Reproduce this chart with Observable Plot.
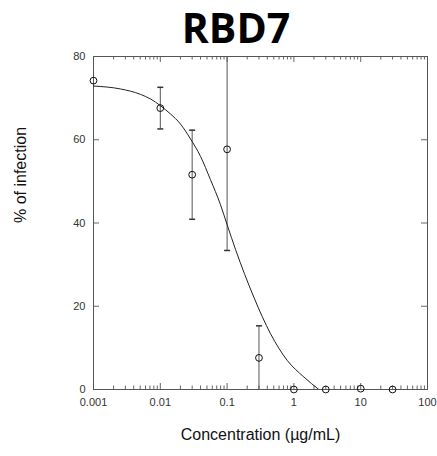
<!DOCTYPE html>
<html><head><meta charset="utf-8">
<script src="https://cdn.jsdelivr.net/npm/d3@7"></script>
<script src="https://cdn.jsdelivr.net/npm/@observablehq/plot@0.6"></script>
<style>body{margin:0;background:#fff}</style>
</head><body><div id="chart"></div>
<script>
const title = "RBD7";
const xLabel = "Concentration (µg/mL)";
const yLabel = "% of infection";
const concentration = [0.001, 0.01, 0.03, 0.1, 0.3, 1, 3, 10, 30];
const infection = [74.2, 67.6, 51.6, 57.7, 7.6, 0, 0, 0.2, 0];
const errorSD = [0, 5, 10.7, 24.3, 7.7, 0, 0, 0, 0];
const fitConcentration = [0.001, 0.00254, 0.00506, 0.00713, 0.01, 0.0142, 0.02, 0.0283, 0.04, 0.0564, 0.0796, 0.1, 0.134, 0.251, 0.447, 0.794, 1.41, 2.36];
const fitInfection = [72.9, 72.2, 70.9, 69.8, 68.2, 66.2, 63.8, 60.2, 56.0, 50.4, 44.4, 39.6, 33.6, 22.2, 13.4, 7.0, 3.0, 0];
const xTicks = [0.001, 0.01, 0.1, 1, 10, 100];
const xTickLabels = ["0.001", "0.01", "0.1", "1", "10", "100"];
const yTicks = [0, 20, 40, 60, 80];

const W = 437, H = 456, mL = 93, mR = 10, mT = 56, mB = 67;
const plotW = W - mL - mR, plotH = H - mT - mB;
const majorLen = 6, minorLen = 3.5;

const xMinor = [];
for (const t of xTicks.slice(0, -1)) for (let k = 2; k <= 9; k++) xMinor.push(t * k);

const rows = concentration.map((c, i) => ({c, y: infection[i], e: errorSD[i]}));
const errRows = rows.filter(d => d.e > 0);
const fit = fitConcentration.map((c, i) => ({c, y: fitInfection[i]}));

const capSymbol = {draw(ctx) { ctx.moveTo(-3, 0); ctx.lineTo(3, 0); }};
const tickColor = "#666";

const chart = Plot.plot({
  width: W, height: H,
  marginLeft: mL, marginRight: mR, marginTop: mT, marginBottom: mB,
  x: {type: "log", domain: [0.001, 100], axis: null},
  y: {domain: [0, 80], axis: null},
  style: {fontFamily: "'Liberation Sans', Arial, sans-serif", fontSize: "11px", color: "#222", background: "#fff"},
  marks: [
    Plot.tickX(xTicks, {x: d => d, insetTop: plotH - majorLen, stroke: tickColor}),
    Plot.tickX(xTicks, {x: d => d, insetBottom: plotH - majorLen, stroke: tickColor}),
    Plot.tickX(xMinor, {x: d => d, insetTop: plotH - minorLen, stroke: tickColor}),
    Plot.tickX(xMinor, {x: d => d, insetBottom: plotH - minorLen, stroke: tickColor}),
    Plot.tickY(yTicks, {y: d => d, insetRight: plotW - majorLen, stroke: tickColor}),
    Plot.tickY(yTicks, {y: d => d, insetLeft: plotW - majorLen, stroke: tickColor}),
    Plot.frame({stroke: "#555"}),
    Plot.text(xTicks, {x: d => d, text: (d, i) => xTickLabels[i], frameAnchor: "bottom", dy: 16, fill: "#333"}),
    Plot.text(yTicks, {y: d => d, text: d => String(d), frameAnchor: "left", dx: -8, textAnchor: "end", fill: "#333"}),
    Plot.text([xLabel], {frameAnchor: "bottom", dy: 50, fontSize: 16, fill: "#111"}),
    Plot.text([yLabel], {frameAnchor: "left", dx: -73, rotate: -90, fontSize: 16, fill: "#111"}),
    Plot.ruleX(errRows, {x: "c", y1: d => d.y - d.e, y2: d => d.y + d.e, stroke: "#555", clip: true}),
    Plot.dot(errRows, {x: "c", y: d => d.y + d.e, symbol: capSymbol, stroke: "#333", fill: "none", clip: true}),
    Plot.dot(errRows, {x: "c", y: d => d.y - d.e, symbol: capSymbol, stroke: "#333", fill: "none", clip: true}),
    Plot.line(fit, {x: "c", y: "y", curve: "monotone-x", stroke: "#222", strokeWidth: 1, clip: true}),
    Plot.dot(rows, {x: "c", y: "y", r: 3.4, stroke: "#111", fill: "none", strokeWidth: 1})
  ]
});

d3.select(chart).append("text")
  .attr("x", 236).attr("y", 43)
  .attr("text-anchor", "middle")
  .style("font-family", "'Open Sans', sans-serif")
  .style("font-weight", 700)
  .style("font-size", "41px")
  .attr("fill", "#000")
  .text(title);

document.getElementById("chart").appendChild(chart);
</script>
</body></html>
